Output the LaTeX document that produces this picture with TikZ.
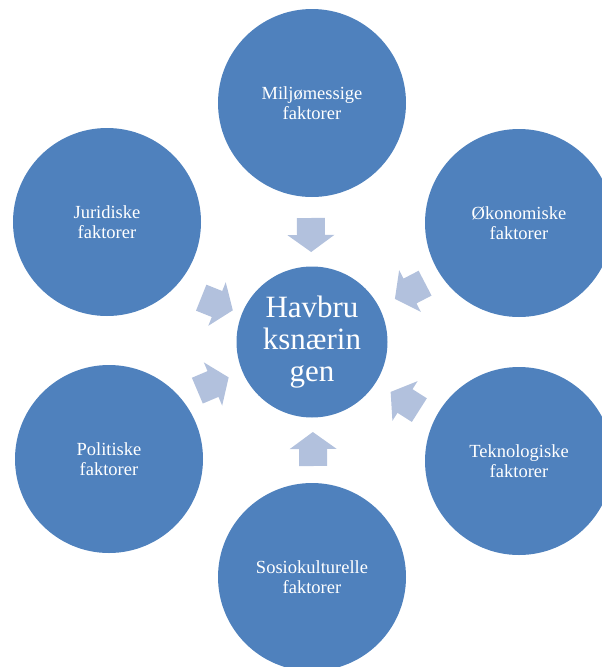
\documentclass[tikz,border=0pt]{standalone}
\usepackage{fontspec}
\setmainfont{Liberation Serif}
\usetikzlibrary{calc}
\definecolor{circblue}{HTML}{4F81BD}
\definecolor{arrblue}{HTML}{B2C1DD}
\newcommand\blockarr[1]{%
  \path ($(#1)!17pt!180:(hub.center)$) coordinate (#1-t)
        ($(#1)!17pt!(hub.center)$) coordinate (#1-p);
  \fill[arrblue] ($(#1-t)!14pt!90:(#1-p)$) -- ($(#1)!14pt!-90:(#1-t)$) --
    ($(#1)!23.5pt!-90:(#1-t)$) -- (#1-p) -- ($(#1)!23.5pt!90:(#1-t)$) --
    ($(#1)!14pt!90:(#1-t)$) -- ($(#1-t)!14pt!-90:(#1-p)$) -- cycle;}
\tikzset{
  outer/.style={circle, fill=circblue, minimum size=188pt, inner sep=0pt,
    text=white, align=center, font=\fontsize{18.5}{20}\selectfont},
  hubcirc/.style={circle, fill=circblue, minimum size=151pt, inner sep=0pt,
    text=white, align=center, font=\fontsize{31}{32}\selectfont}
}
\begin{document}
\begin{tikzpicture}[x=1pt,y=-1pt]
\useasboundingbox (0,0) rectangle (602,667);
\node[hubcirc] (hub) at (312,342) {Havbru\\ksnærin\\gen};
\node[outer] (milj) at (312,103) {Miljømessige\\faktorer};
\node[outer] (okon) at (519,223) {Økonomiske\\faktorer};
\node[outer] (tekn) at (519,461) {Teknologiske\\faktorer};
\node[outer] (sosi) at (312,577) {Sosiokulturelle\\faktorer};
\node[outer] (poli) at (109,459) {Politiske\\faktorer};
\node[outer] (juri) at (107,222) {Juridiske\\faktorer};
\coordinate (a1) at (311,235);
\coordinate (a2) at (410,291);
\coordinate (a3) at (405,401);
\coordinate (a4) at (313,449);
\coordinate (a5) at (213,384);
\coordinate (a6) at (217,304);
\blockarr{a1}
\blockarr{a2}
\blockarr{a3}
\blockarr{a4}
\blockarr{a5}
\blockarr{a6}
\end{tikzpicture}
\end{document}
